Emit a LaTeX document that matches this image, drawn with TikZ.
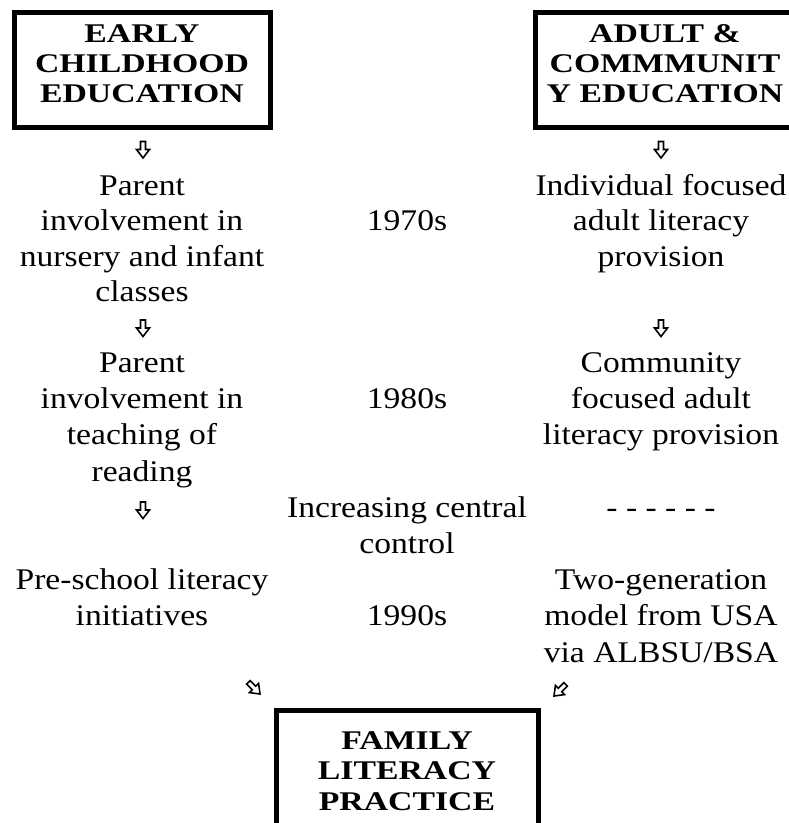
\documentclass[tikz,border=0pt]{standalone}
\usepackage{fontspec}
\setmainfont[FakeStretch=1.12]{Liberation Serif}
\newfontfamily\framefont[FakeStretch=1.25]{Liberation Serif}
\begin{document}
\begin{tikzpicture}[x=1pt,y=-1pt,
  body/.style={anchor=base,inner sep=0pt,font=\fontsize{30}{36}\selectfont},
  boxtxt/.style={anchor=base,inner sep=0pt,font=\framefont\fontsize{27}{32}\selectfont\bfseries},
  frame/.style={draw,line width=5pt,inner sep=0pt},
  darrow/.pic={\draw[line width=1.6pt,line join=miter] (-2.5,-8) -- (-2.5,0) -- (-6.5,0) -- (0,8.5) -- (6.5,0) -- (2.5,0) -- (2.5,-8) -- cycle;}]
\useasboundingbox (0,0) rectangle (789,823);
% boxes
\node[frame,minimum width=256pt,minimum height=115pt] (ecebox) at (142.5,70) {};
\node[frame,minimum width=259pt,minimum height=115pt] (acebox) at (665,70) {};
\node[frame,minimum width=262pt,minimum height=122pt] (flpbox) at (407.5,771) {};
% box texts
\node[boxtxt] (e1) at (142,42) {EARLY};
\node[boxtxt] (e2) at (142,72) {CHILDHOOD};
\node[boxtxt] (e3) at (142,102) {EDUCATION};
\node[boxtxt] (a1) at (665,42) {ADULT \&};
\node[boxtxt] (a2) at (665,72) {COMMMUNIT};
\node[boxtxt] (a3) at (665,102) {Y EDUCATION};
\node[boxtxt] (f1) at (407,749) {FAMILY};
\node[boxtxt] (f2) at (407,779.5) {LITERACY};
\node[boxtxt] (f3) at (407,810) {PRACTICE};
% left column
\node[body] (l1) at (142,195) {Parent};
\node[body] (l2) at (142,230.5) {involvement in};
\node[body] (l3) at (142,266) {nursery and infant};
\node[body] (l4) at (142,301.5) {classes};
\node[body] (l6) at (142,372.5) {Parent};
\node[body] (l7) at (142,408.7) {involvement in};
\node[body] (l8) at (142,444.9) {teaching of};
\node[body] (l9) at (142,481.1) {reading};
\node[body] (l12) at (142,589.7) {Pre-school literacy};
\node[body] (l13) at (142,625.9) {initiatives};
% middle column
\node[body] (m2) at (407,230.5) {1970s};
\node[body] (m7) at (407,408.7) {1980s};
\node[body] (m10) at (407,517.3) {Increasing central};
\node[body] (m11) at (407,553.5) {control};
\node[body] (m13) at (407,625.9) {1990s};
% right column
\node[body] (r1) at (661,195) {Individual focused};
\node[body] (r2) at (661,230.5) {adult literacy};
\node[body] (r3) at (661,266) {provision};
\node[body] (r6) at (661,372.5) {Community};
\node[body] (r7) at (661,408.7) {focused adult};
\node[body] (r8) at (661,444.9) {literacy provision};
\node[body] (r10) at (661,517.3) {- - - - - -};
\node[body] (r12) at (661,589.7) {Two-generation};
\node[body] (r13) at (661,625.9) {model from USA};
\node[body] (r14) at (661,662.1) {via ALBSU/BSA};
% arrows
\pic at (143,149.5) {darrow};
\pic at (143,328) {darrow};
\pic at (143,510) {darrow};
\pic at (661,149.5) {darrow};
\pic at (661,328) {darrow};
\pic[rotate=45] at (254,688) {darrow};
\pic[rotate=-45] at (560,690) {darrow};
\end{tikzpicture}
\end{document}
